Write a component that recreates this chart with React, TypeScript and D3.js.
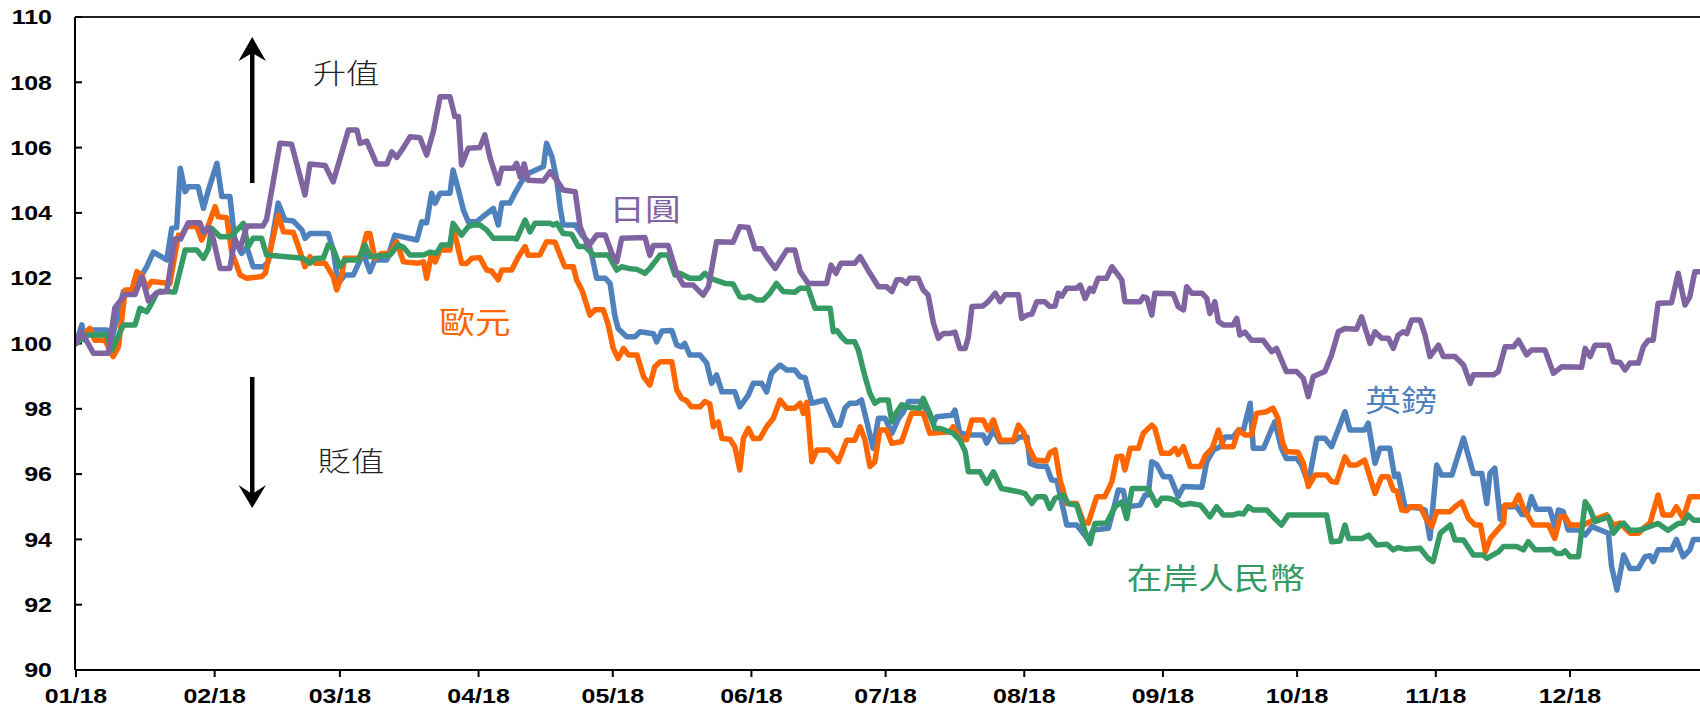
import React from "react";
import * as d3 from "d3";

// ---- data: [day of 2018 (0 = 1 Jan), index level] ----
const jpyData: [number, number][] = [
  [0,100.0],[1.3,100.35],[3.9,99.7],[7.2,99.7],[8.7,101.1],[11,101.5],[13.2,101.5],[14.7,102.05],[16.2,101.3],[18,101.55],[20.3,101.6],[22.1,103.2],[23.4,103.2],[25.1,103.7],[27.7,103.7],[28.5,103.4],[29.5,103.55],[30.7,103.2],[32.2,102.3],[34.4,102.3],[35.5,103.2],[36.7,102.9],[38.2,103.6],[41.8,103.6],[42.6,103.8],[45.6,106.13],[48.2,106.1],[51.2,104.55],[52.3,105.5],[55.7,105.45],[57.5,104.95],[60.9,106.54],[62.8,106.54],[63.5,106.13],[65,106.2],[67.2,105.5],[69.5,105.5],[70.6,105.87],[71.7,105.7],[73.2,106.0],[74.7,106.33],[76.9,106.3],[78.4,105.77],[79.9,106.5],[81.4,107.56],[83.6,107.56],[84.7,106.95],[85.5,106.95],[86.2,105.47],[87.7,105.98],[90.3,106.0],[91.4,106.39],[92.6,105.67],[94.4,104.9],[95.2,105.37],[97.8,105.37],[98.5,105.52],[99.3,105.1],[100.2,105.5],[101.1,105.0],[104.5,104.98],[106,105.26],[107.5,105.0],[108.9,104.7],[111.6,104.65],[112.7,103.58],[114.5,102.97],[116.4,103.32],[118.3,103.32],[119.8,102.76],[120.9,102.5],[122,103.22],[127.2,103.25],[128.3,102.7],[129.1,103.0],[132.4,103.0],[134.3,102.15],[135.8,101.79],[138,101.79],[140.2,101.48],[141.4,101.74],[143.2,103.12],[146.9,103.1],[148.4,103.58],[150.3,103.55],[151.8,102.9],[153.3,102.9],[154.4,102.66],[156.3,102.3],[158.9,102.86],[160.7,102.86],[161.9,102.2],[163.7,101.84],[166.3,101.84],[167.8,101.84],[168.8,102.4],[169.9,102.15],[171,102.46],[174.1,102.46],[175.3,102.66],[177.5,102.15],[179.4,101.74],[181.2,101.74],[182.4,101.59],[183.5,101.95],[184.6,101.95],[185.7,101.84],[186.4,102.0],[188.3,102.0],[189.4,101.64],[190.5,101.49],[191.7,100.62],[192.8,100.16],[193.9,100.31],[195.4,100.31],[196.5,100.35],[197.6,99.85],[198.8,99.85],[199.5,100.2],[200.3,101.13],[202.8,101.15],[203.9,101.28],[205.5,101.54],[206.6,101.28],[207.7,101.49],[210.7,101.49],[211.4,100.77],[212.6,100.87],[213.7,100.9],[214.8,101.28],[216.6,101.28],[217.7,101.13],[218.9,101.15],[219.6,101.54],[220.4,101.45],[221.5,101.69],[223.7,101.69],[224.5,101.79],[225.6,101.38],[226.7,101.69],[227.4,101.6],[228.5,102.0],[230.4,102.0],[231.6,102.35],[233.8,101.95],[234.5,101.28],[237.9,101.28],[238.6,101.43],[239.4,101.4],[240.5,100.87],[241.2,101.54],[245.3,101.52],[246.4,101.13],[247.6,101.03],[248.3,101.74],[249.4,101.54],[251.7,101.54],[252.8,101.38],[253.5,100.92],[254.6,101.28],[255.4,100.67],[256.5,100.57],[258.7,100.57],[259.5,100.77],[260.2,100.26],[261.3,100.35],[262.8,100.1],[265.4,100.1],[267.3,99.75],[268.4,99.85],[270.6,99.14],[272.9,99.14],[274.4,98.93],[275.5,98.37],[276.6,98.99],[279.2,99.14],[280.7,99.65],[282.2,100.36],[283.7,100.46],[286.3,100.44],[287.4,100.82],[289.3,100.0],[290.4,100.36],[291.9,100.16],[293.4,100.16],[294.5,99.85],[295.6,100.26],[296.7,100.36],[297.5,100.3],[298.6,100.72],[300.5,100.72],[301.6,100.26],[302.7,99.6],[304.6,99.95],[305.7,99.6],[308.3,99.6],[310.2,99.34],[311.7,98.78],[312.4,99.04],[316.9,99.04],[318,99.14],[319.5,99.9],[321.4,99.9],[322.5,100.1],[324.3,99.65],[325.4,99.8],[328.4,99.8],[330.3,99.09],[332.2,99.29],[336.6,99.27],[337.4,99.85],[338.5,99.6],[339.6,99.95],[342.6,99.95],[343.7,99.44],[345.2,99.42],[346.3,99.19],[347.4,99.4],[349.3,99.4],[350.4,99.9],[351.5,100.1],[352.6,100.1],[353.7,101.23],[356.7,101.25],[358.2,102.15],[359.7,101.18],[360.8,101.43],[361.9,102.2],[363,102.2]
];

const gbpData: [number, number][] = [
  [0,100.0],[1.3,100.57],[2,100.1],[2.7,100.41],[6.9,100.41],[7.6,99.9],[10.6,101.59],[12.5,101.59],[13.6,102.15],[14.3,102.0],[15.8,102.35],[17.3,102.8],[20.3,102.56],[21.4,103.53],[22.5,103.55],[23.3,105.37],[24.4,104.65],[25.1,104.8],[27.3,104.8],[28.5,104.14],[29.6,104.7],[31.5,105.52],[32.6,104.5],[34.4,104.5],[35.5,103.17],[37,102.76],[38.2,102.95],[39.6,102.35],[41.9,102.35],[43,102.5],[45.2,104.3],[46.7,103.78],[48.6,103.75],[50.5,103.48],[51.2,103.22],[52.3,103.37],[56.4,103.37],[57.5,102.86],[58.6,101.84],[60.1,102.1],[62,102.1],[64.2,102.76],[65.7,102.2],[66.8,102.56],[69.5,102.56],[71.3,103.32],[76.2,103.17],[77.3,103.73],[78.4,103.7],[79.5,104.6],[80.3,104.3],[81.4,104.6],[83.6,104.6],[84.3,105.31],[85.5,104.7],[86.6,104.09],[87.7,103.73],[89.6,103.73],[91.4,103.93],[93.3,104.14],[94.4,103.63],[95.2,104.3],[97,104.3],[98.1,104.6],[99.6,104.96],[101.1,105.21],[104.5,105.42],[105.2,106.13],[106.4,105.72],[107.5,105.0],[108.2,104.2],[108.9,103.63],[111.6,103.63],[113.1,103.32],[114.5,103.12],[115.3,102.71],[116.4,102.0],[118.3,102.0],[119.4,101.84],[120.5,100.82],[121.2,100.46],[123.1,100.21],[125,100.21],[126.1,100.36],[129.1,100.3],[129.8,100.05],[131,100.38],[133.2,100.4],[134.3,99.95],[135.4,99.9],[136.1,100.0],[137.2,99.65],[139.5,99.65],[141,99.4],[142.1,98.78],[143.2,99.04],[144.4,98.52],[147.3,98.52],[148.4,98.06],[150.3,98.42],[151.4,98.78],[153.3,98.78],[154.4,98.52],[155.5,99.09],[157.4,99.34],[158.9,99.19],[160.7,99.19],[161.9,98.98],[163,98.95],[164.5,98.17],[167.4,98.27],[169.7,97.5],[170.8,97.5],[171.9,98.02],[173,98.17],[174.5,98.17],[175.6,98.27],[176.7,97.66],[178.2,96.79],[179.4,97.71],[180.9,97.71],[182.4,97.25],[183.9,97.71],[185,97.91],[186.1,98.22],[188.7,98.22],[190.2,97.96],[191.7,97.56],[192.4,97.76],[195.8,97.8],[196.5,97.96],[197.6,97.25],[199.9,97.2],[202.8,97.2],[203.6,96.95],[205.1,97.35],[206.6,96.99],[209.6,97.0],[211,97.14],[212.6,97.14],[213.3,96.33],[214.8,96.25],[217,96.23],[218.1,95.82],[219.3,95.8],[221.5,94.44],[223.7,94.44],[225.2,94.19],[226.3,93.98],[227.4,94.29],[230.8,94.34],[231.9,94.9],[233,95.51],[234.1,95.5],[234.9,95.0],[237.9,95.05],[239,95.36],[239.7,95.36],[240.5,96.38],[241.6,96.3],[243.1,95.92],[244.6,95.92],[246.4,95.31],[247.6,95.62],[251.7,95.6],[252.8,96.38],[254.3,96.74],[255.8,96.84],[256.9,97.14],[258.7,97.14],[259.9,97.35],[261,97.35],[262.5,98.17],[263.2,96.79],[265.5,96.79],[266.9,97.25],[268,97.6],[269.5,96.79],[270.6,96.48],[272.9,96.48],[274,96.28],[275.5,95.72],[277.4,97.1],[279.2,97.1],[280.7,96.84],[283.7,97.91],[284.8,97.35],[288.1,97.35],[288.9,97.56],[290.4,96.33],[291.5,96.79],[293.7,96.79],[294.8,95.92],[295.6,96.0],[297.1,95.0],[300.5,94.95],[301.6,94.9],[302.7,94.03],[304.2,96.28],[305.3,95.97],[307.6,95.97],[310.2,97.1],[312.4,96.02],[314.3,96.02],[315.4,95.1],[316.1,96.02],[317.2,96.18],[318.4,94.62],[319.1,95.0],[322.1,95.0],[323.2,94.77],[324.3,94.75],[325.4,95.31],[326.5,94.92],[329.5,94.92],[330.6,94.39],[331.4,94.9],[332.5,94.85],[333.6,94.29],[335.9,94.29],[337.4,94.13],[338.9,94.39],[342.6,94.19],[343.3,93.17],[344.5,92.45],[346,93.52],[347.4,93.11],[349.3,93.11],[350.8,93.47],[351.9,93.5],[352.6,93.32],[353.7,93.68],[356.7,93.68],[357.8,94.0],[359.3,93.47],[360.8,93.68],[361.6,94.0],[363,94.0]
];

const eurData: [number, number][] = [
  [0,100.0],[3.1,100.46],[4.2,100.1],[6.5,100.1],[8.3,99.6],[9.5,99.9],[11,101.64],[12.5,101.64],[13.6,102.2],[14.7,102.1],[15.8,101.69],[16.9,101.9],[21,101.84],[22.9,103.32],[23.6,103.3],[24.7,103.58],[27,103.58],[28.1,103.17],[29.2,103.48],[31.1,104.19],[31.8,103.88],[33.7,103.85],[34.8,102.81],[36.7,102.1],[38.2,102.0],[41.5,102.05],[42.3,102.15],[45.2,103.93],[46.4,103.42],[48.6,103.4],[49.7,102.97],[51.2,102.35],[52.3,102.66],[53.4,102.46],[55.7,102.46],[57.5,102.05],[58.3,101.64],[59.4,102.1],[60.1,102.61],[63.5,102.61],[65,103.37],[65.7,103.37],[66.8,102.61],[68.3,102.76],[70.2,102.76],[71.7,103.12],[73.2,102.5],[76.5,102.46],[77.7,102.5],[78.4,102.0],[79.5,102.76],[80.3,102.5],[81.4,102.86],[83.6,102.86],[84.3,103.58],[86.2,102.46],[87.3,102.45],[88.5,102.61],[90.3,102.63],[91.8,102.25],[92.9,102.22],[94.4,101.95],[95.2,102.25],[97.4,102.25],[98.9,102.66],[100.4,102.97],[101.1,102.7],[103.7,102.71],[105.2,103.12],[107.1,103.1],[108.2,102.71],[109.3,102.35],[111.2,102.35],[111.9,101.95],[113.1,101.64],[114.9,100.87],[116,101.03],[117.9,101.03],[119,100.57],[120.1,99.85],[121.2,99.54],[122.4,99.85],[123.5,99.65],[125.4,99.65],[126.9,98.98],[128.3,98.73],[129.4,99.29],[130.6,99.44],[133.2,99.44],[134.3,98.58],[135.4,98.32],[136.5,98.25],[137.6,98.06],[139.5,98.06],[140.6,98.22],[141.7,98.15],[142.5,97.45],[143.6,97.6],[144.4,97.09],[146.2,97.07],[147.3,96.84],[148.4,96.13],[149.2,97.09],[150.3,97.4],[151.4,97.09],[152.9,97.09],[154.4,97.45],[155.9,97.71],[157.4,98.27],[158.9,98.02],[160.7,98.02],[161.9,98.17],[162.6,97.86],[163.4,98.2],[164.5,96.38],[165.6,96.74],[168.2,96.74],[170.4,96.38],[172.3,97.04],[174.1,97.04],[175.3,97.45],[176.4,97.04],[177.5,96.23],[178.6,96.38],[179.7,97.35],[181.2,97.35],[182.4,96.94],[184.6,97.0],[186.1,97.6],[186.8,97.86],[189.4,97.86],[190.9,97.25],[195.4,97.3],[196.1,97.45],[197.6,97.09],[199.1,97.05],[200.3,97.66],[202.8,97.66],[203.9,97.35],[205.1,97.66],[206.6,97.04],[209.6,97.04],[210.7,97.5],[211.8,97.3],[212.9,96.84],[214.4,96.43],[217,96.4],[217.7,96.64],[218.9,96.74],[220,95.82],[221.5,95.1],[223.7,95.1],[225.2,94.54],[226.3,94.5],[228.2,95.31],[230,95.31],[231.6,95.77],[232.7,96.53],[233.8,96.55],[234.5,96.13],[235.7,96.79],[237.5,96.79],[238.6,97.25],[240.5,97.5],[241.2,97.4],[242.7,96.64],[244.6,96.64],[245.7,96.79],[246.4,96.6],[247.6,96.84],[249.1,96.23],[251.4,96.23],[252.5,96.58],[254,96.79],[255.4,97.35],[256.5,96.84],[258.7,96.84],[259.9,97.35],[261.3,97.2],[262.8,97.2],[263.9,97.86],[266.1,97.91],[267.6,98.02],[268.7,97.71],[269.8,96.94],[270.6,96.69],[273.2,96.67],[274.4,96.33],[275.5,95.62],[277,95.97],[279.6,95.97],[280.7,95.77],[281.8,95.75],[283.7,96.53],[284.8,96.28],[286.3,96.28],[288.1,96.43],[290.4,95.41],[291.9,95.92],[293.4,95.92],[294.5,95.51],[295.3,95.48],[296.4,94.9],[297.5,94.88],[298.3,95.0],[300.5,95.0],[302,94.59],[303.1,94.39],[304.2,94.85],[307.2,94.85],[308.3,95.0],[309.8,95.15],[311.3,94.64],[312.8,94.44],[314,94.44],[315.1,93.62],[316.2,94.03],[319.1,94.49],[319.5,95.05],[321.4,95.05],[322.5,95.36],[323.6,94.95],[325.8,94.44],[329.2,94.44],[330.6,94.03],[331.8,94.69],[332.9,94.7],[334,94.44],[337,94.44],[339.2,94.59],[342.2,94.75],[343.7,94.44],[345.2,94.5],[347.4,94.19],[349.3,94.19],[350.8,94.39],[351.9,94.5],[353.7,95.36],[354.8,94.75],[356.7,94.75],[357.8,95.0],[359.3,94.64],[360.8,95.31],[363,95.31]
];

const cnyData: [number, number][] = [
  [0,100.0],[2.4,100.26],[6.9,100.26],[8,99.8],[10.6,100.57],[13.2,100.57],[14.3,101.08],[15.8,100.97],[16.9,101.23],[18,101.54],[18.8,101.6],[22.1,101.58],[24.4,102.86],[27,102.86],[28.5,102.61],[29.6,102.9],[30.3,103.53],[32.2,103.27],[34.4,103.27],[35.5,103.4],[37.4,103.68],[38.5,102.97],[39.6,103.22],[41.5,103.22],[42.6,102.71],[50.8,102.61],[52.3,102.46],[53.4,102.6],[55.3,102.62],[56.4,103.02],[57.5,102.9],[59,102.35],[60.1,102.56],[63.1,102.56],[64.6,103.02],[65.7,102.66],[70.2,102.71],[72,103.02],[73.2,102.95],[74.7,102.71],[77.7,102.71],[79.2,102.8],[80.6,102.76],[81.7,103.02],[83.6,103.02],[84.3,103.68],[86.2,103.32],[87.7,103.58],[88.9,103.63],[90.3,103.63],[91.8,103.48],[93.3,103.22],[97.8,103.22],[98.5,103.2],[100.4,103.78],[101.5,103.42],[102.6,103.68],[106,103.68],[106.7,103.63],[107.5,103.68],[108.9,103.37],[110.8,103.35],[112.3,102.97],[113.8,102.97],[115.7,102.71],[119,102.71],[120.9,102.25],[122,102.35],[123.5,102.3],[125.4,102.27],[127.2,102.15],[128.3,102.3],[130.6,102.71],[132.4,102.71],[133.9,102.1],[135,102.15],[137.2,102.0],[139.5,102.0],[140.6,102.15],[141.7,102.0],[142.8,101.95],[145.1,101.84],[146.9,101.82],[148.4,101.43],[149.5,101.4],[150.6,101.45],[152.2,101.33],[153.6,101.33],[155.1,101.54],[156.6,101.84],[158.1,101.59],[160.7,101.57],[161.9,101.69],[163.7,101.69],[165.2,101.08],[168.6,101.08],[169.3,100.36],[170.1,100.4],[171.2,100.2],[172.3,100.05],[174.1,100.05],[174.9,99.8],[176.4,98.98],[177.5,98.47],[178.6,98.17],[179.7,98.27],[181.6,98.27],[182.4,97.6],[183.5,97.91],[184.6,98.12],[186.1,98.05],[188.7,98.02],[189.4,98.32],[190.9,97.86],[192,97.4],[193.1,97.4],[196.1,97.25],[197.6,97.04],[198.8,96.69],[199.5,96.07],[202.1,96.07],[203.6,95.72],[205.1,96.07],[206.9,95.56],[210.7,95.46],[212.2,95.4],[213.7,95.1],[214.8,95.31],[216.6,95.31],[217.7,94.95],[218.9,95.26],[220.7,95.36],[221.8,95.1],[223.7,95.05],[226,94.08],[226.7,93.87],[227.8,94.49],[230.4,94.5],[232.3,95.0],[233.8,95.15],[234.9,94.64],[236.1,95.56],[238.6,95.56],[239.7,95.55],[241.6,95.05],[242.7,95.26],[244.2,95.26],[245.7,95.2],[247.2,95.05],[249.1,95.1],[251.4,95.05],[253.5,94.69],[255,95.0],[256.5,94.75],[258.7,94.75],[259.9,94.8],[261,94.78],[262.1,95.0],[263.2,94.9],[266.2,94.9],[268,94.64],[269.5,94.44],[271,94.75],[279.6,94.75],[280.7,93.93],[282.6,93.95],[283.7,94.44],[284.5,94.03],[287.5,94.03],[289,94.13],[290.8,93.83],[293.1,93.85],[294.5,93.68],[295.6,93.75],[297.1,93.7],[300.5,93.73],[302.3,93.42],[303.4,93.32],[305,94.19],[307.2,94.44],[308.3,93.98],[310.2,93.98],[312.4,93.52],[314.6,93.52],[315.4,93.42],[318,93.62],[319.1,93.78],[322.1,93.78],[323.6,93.68],[324.7,93.93],[326.2,93.68],[328.8,93.68],[329.9,93.7],[331,93.57],[332.2,93.57],[332.9,93.65],[334,93.47],[335.9,93.47],[337.4,95.15],[338.5,94.92],[339.6,94.54],[342.6,94.69],[343.7,94.19],[345.2,94.44],[346,94.5],[347.4,94.28],[349.3,94.28],[350.8,94.34],[353.7,94.49],[355.9,94.28],[358.2,94.49],[359.3,94.5],[360.4,94.75],[361.6,94.59],[363,94.59]
];

const yTicks = [90, 92, 94, 96, 98, 100, 102, 104, 106, 108, 110];
const monthLabels = ["01/18","02/18","03/18","04/18","05/18","06/18","07/18","08/18","09/18","10/18","11/18","12/18"];

// drawing order: first is at the bottom
const series = [
  { name: "英鎊", data: gbpData, color: "#4F81BD", label: [1401, 398] },
  { name: "歐元", data: eurData, color: "#FF6600", label: [475, 320] },
  { name: "在岸人民幣", data: cnyData, color: "#359A63", label: [1216, 576] },
  { name: "日圓", data: jpyData, color: "#8064A2", label: [645, 207] },
];

const W = 1700, H = 707;
const left = 75, top = 17, bottom = 670;
const SX = 1.19; // horizontal stretch of the text in the reference
const start = Date.UTC(2018, 0, 1);
const DAY = 86400000;

export default function App() {
  const x = d3.scaleUtc().domain([new Date(start), new Date(start + 364 * DAY)]).range([76, 76 + 364 * 4.473]);
  const y = d3.scaleLinear().domain([90, 110]).range([bottom, top]);
  const line = d3.line<[number, number]>()
    .x(d => x(new Date(start + d[0] * DAY)))
    .y(d => y(d[1]));
  const months = d3.utcMonth.range(new Date(start), new Date(Date.UTC(2018, 11, 2)));
  const numFont = "'Liberation Sans', Arial, sans-serif";
  const cjkFont = "'Noto Sans CJK TC', 'Noto Sans CJK SC', sans-serif";
  const txt = (tx: number, ty: number) => `translate(${tx},${ty}) scale(${SX},1)`;

  return (
    <svg width={W} height={H} style={{ position: "absolute", left: 0, top: 0, background: "#fff" }}>
      <defs>
        <clipPath id="plot"><rect x={left} y={top - 5} width={W - left} height={bottom - top + 5} /></clipPath>
      </defs>
      {/* frame */}
      <line x1={left} x2={W} y1={top} y2={top} stroke="#222" strokeWidth={2} />
      {/* y ticks */}
      {yTicks.map(t => (
        <g key={t}>
          <line x1={left} x2={left + 7} y1={y(t)} y2={y(t)} stroke="#000" strokeWidth={2} />
          <text transform={txt(52, y(t))} textAnchor="end" dominantBaseline="central"
            fontFamily={numFont} fontWeight="bold" fontSize={21} fill="#000">{t}</text>
        </g>
      ))}
      {/* x ticks */}
      {months.map((m, i) => (
        <g key={i}>
          <line x1={x(m)} x2={x(m)} y1={bottom} y2={bottom + 7} stroke="#000" strokeWidth={2} />
          <text transform={txt(x(m), 696)} textAnchor="middle" dominantBaseline="central"
            fontFamily={numFont} fontWeight="bold" fontSize={21} fill="#000">{monthLabels[i]}</text>
        </g>
      ))}
      {/* series */}
      <g clipPath="url(#plot)">
        {series.map(s => (
          <path key={s.name} d={line(s.data) || ""} fill="none" stroke={s.color}
            strokeWidth={5.5} strokeLinejoin="round" strokeLinecap="round" />
        ))}
      </g>
      {/* axes */}
      <line x1={left} x2={left} y1={top} y2={bottom} stroke="#000" strokeWidth={2} />
      <line x1={left} x2={W} y1={bottom} y2={bottom} stroke="#000" strokeWidth={2} />
      {/* series labels */}
      {series.map(s => (
        <text key={s.name} transform={txt(s.label[0], s.label[1])} textAnchor="middle" dominantBaseline="central"
          fontFamily={cjkFont} fontSize={30} fill={s.color}>{s.name}</text>
      ))}
      {/* arrows */}
      <rect x={250} y={50} width={4.5} height={133} fill="#000" />
      <path d="M252.2,37 L266,61 L252.2,53 L238.5,61 Z" fill="#000" />
      <rect x={250} y={377} width={4.5} height={120} fill="#000" />
      <path d="M252.2,508 L266,485 L252.2,494 L238.5,485 Z" fill="#000" />
      <text transform={txt(346, 72)} textAnchor="middle" dominantBaseline="central"
        fontFamily={cjkFont} fontSize={28} fontWeight={300} fill="#222">升值</text>
      <text transform={txt(351, 460)} textAnchor="middle" dominantBaseline="central"
        fontFamily={cjkFont} fontSize={28} fontWeight={300} fill="#222">貶值</text>
    </svg>
  );
}
